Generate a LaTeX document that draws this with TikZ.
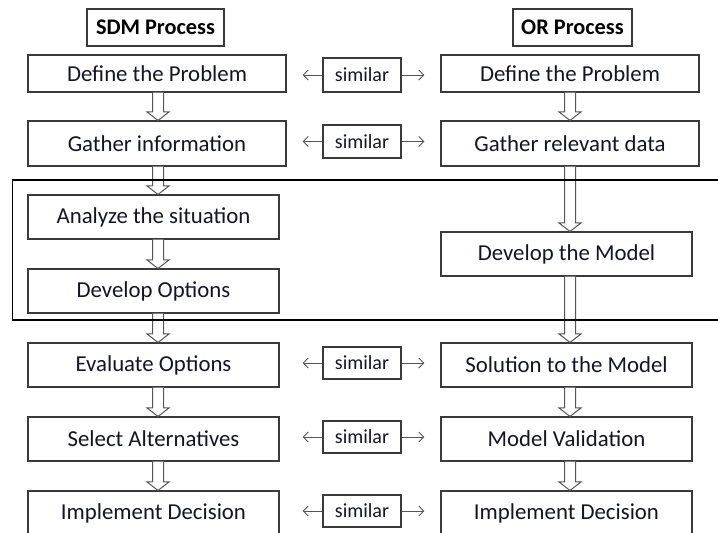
\documentclass[tikz,border=0pt]{standalone}
\usepackage{fontspec}
\setmainfont{Carlito}
\usetikzlibrary{arrows.meta,calc}
\definecolor{bord}{HTML}{3A3A3A}
\definecolor{arr}{HTML}{555555}
\definecolor{txt}{HTML}{141428}
\tikzset{
  procbox/.style={draw=bord, line width=1.1pt, fill=white, inner sep=0pt, text=txt,
    font=\fontsize{22.8}{25}\selectfont},
  headbox/.style={draw=bord, line width=1.1pt, fill=white, inner sep=0pt, text=black,
    font=\fontsize{22.3}{25}\selectfont\bfseries},
  simbox/.style={draw=bord, line width=1.1pt, fill=white, inner sep=0pt, text=txt,
    minimum width=78pt, font=\fontsize{20}{22}\selectfont},
  simarrow/.style={draw=arr, line width=1pt, -{Straight Barb[length=5pt,width=10pt]}},
  blk/.style={draw=arr, line width=1pt, fill=white, line join=miter},
}
% block arrow from node #1 (south) to node #2 (north) at canvas x = #3 (pt)
\newcommand{\blockarrow}[3]{%
  \path[blk] let \p1=(#1.south), \p2=(#2.north) in
    (#3-5.5pt,\y1) -- (#3-5.5pt,\y2+8.5pt) -- (#3-11pt,\y2+8.5pt) -- (#3,\y2)
    -- (#3+11pt,\y2+8.5pt) -- (#3+5.5pt,\y2+8.5pt) -- (#3+5.5pt,\y1);}
\begin{document}
\begin{tikzpicture}[x=1pt,y=-1pt]
\useasboundingbox (0,0) rectangle (718,533);
\fill[white] (0,0) rectangle (718,533);
\clip (0,0) rectangle (718,533);

% headers
\node[headbox, minimum width=137pt, minimum height=37pt] (hS) at (155.5,27.5) {SDM Process};
\node[headbox, minimum width=119pt, minimum height=37pt] (hO) at (572.5,27.5) {OR Process};

% SDM column
\node[procbox, minimum width=258pt, minimum height=37pt] (L1) at (157,73.5) {Define the Problem};
\node[procbox, minimum width=258pt, minimum height=45pt] (L2) at (157,143.5) {Gather information};
\node[procbox, minimum width=251pt, minimum height=44pt] (L3) at (153.5,217) {Analyze the situation};
\node[procbox, minimum width=251pt, minimum height=44pt] (L4) at (153.5,291) {Develop Options};
\node[procbox, minimum width=251pt, minimum height=44pt] (L5) at (153.5,365) {Evaluate Options};
\node[procbox, minimum width=251pt, minimum height=44pt] (L6) at (153.5,439) {Select Alternatives};
\node[procbox, minimum width=251pt, minimum height=44pt] (L7) at (153.5,513) {Implement Decision};

% OR column
\node[procbox, minimum width=258pt, minimum height=37pt] (R1) at (570,73.5) {Define the Problem};
\node[procbox, minimum width=258pt, minimum height=45pt] (R2) at (570,143.5) {Gather relevant data};
\node[procbox, minimum width=251pt, minimum height=44pt] (R3) at (566.5,254) {Develop the Model};
\node[procbox, minimum width=251pt, minimum height=44pt] (R4) at (566.5,365) {Solution to the Model};
\node[procbox, minimum width=251pt, minimum height=44pt] (R5) at (566.5,439) {Model Validation};
\node[procbox, minimum width=251pt, minimum height=44pt] (R6) at (566.5,513) {Implement Decision};

% similar boxes
\node[simbox, minimum height=34pt] (S1) at (362,75) {similar};
\node[simbox, minimum height=33pt] (S2) at (362,141.5) {similar};
\node[simbox, minimum height=32pt] (S3) at (362,363) {similar};
\node[simbox, minimum height=32pt] (S4) at (362,437) {similar};
\node[simbox, minimum height=32pt] (S5) at (362,511) {similar};

\draw[simarrow, shorten >=16pt] (S1.west) -- (S1.west -| L1.east);
\draw[simarrow, shorten >=16pt] (S1.east) -- (S1.east -| R1.west);
\draw[simarrow, shorten >=16pt] (S2.west) -- (S2.west -| L2.east);
\draw[simarrow, shorten >=16pt] (S2.east) -- (S2.east -| R2.west);
\draw[simarrow, shorten >=23pt] (S3.west) -- (S3.west -| L5.east);
\draw[simarrow, shorten >=16pt] (S3.east) -- (S3.east -| R4.west);
\draw[simarrow, shorten >=23pt] (S4.west) -- (S4.west -| L6.east);
\draw[simarrow, shorten >=16pt] (S4.east) -- (S4.east -| R5.west);
\draw[simarrow, shorten >=23pt] (S5.west) -- (S5.west -| L7.east);
\draw[simarrow, shorten >=16pt] (S5.east) -- (S5.east -| R6.west);

% block arrows
\blockarrow{L1}{L2}{158pt}
\blockarrow{L2}{L3}{158pt}
\blockarrow{L3}{L4}{158pt}
\blockarrow{L4}{L5}{158pt}
\blockarrow{L5}{L6}{158pt}
\blockarrow{L6}{L7}{158pt}
\blockarrow{R1}{R2}{570pt}
\blockarrow{R2}{R3}{570pt}
\blockarrow{R3}{R4}{570pt}
\blockarrow{R4}{R5}{570pt}
\blockarrow{R5}{R6}{570pt}

% grouping frame (open to the right)
\draw[line width=1.7pt, black] (725,180) -- (12.5,180) -- (12.5,320) -- (725,320);
\end{tikzpicture}
\end{document}
